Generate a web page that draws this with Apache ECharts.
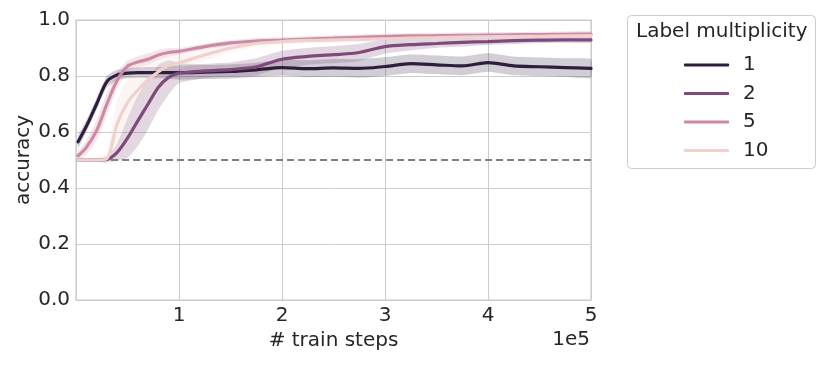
<!DOCTYPE html>
<html>
<head>
<meta charset="utf-8">
<script src="https://cdn.jsdelivr.net/npm/echarts@6/dist/echarts.min.js"></script>
<style>html,body{margin:0;padding:0;background:#fff;}#c{width:830px;height:365px;}</style>
</head>
<body>
<div id="c"></div>
<script>
// x in units of 1e5 train steps
const steps = [0.02,0.1,0.2,0.3,0.4,0.5,0.6,0.7,0.8,0.9,1.0,1.25,1.5,1.75,2.0,2.25,2.5,2.75,3.0,3.25,3.5,3.75,4.0,4.25,4.5,4.75,5.0];
const seriesNames = ['1','2','5','10'];
const acc1 = [0.565,0.62,0.70,0.78,0.804,0.81,0.812,0.812,0.812,0.812,0.812,0.814,0.816,0.822,0.83,0.826,0.829,0.827,0.834,0.844,0.84,0.836,0.848,0.836,0.833,0.83,0.827];
const ci1  = [0.02,0.02,0.02,0.02,0.018,0.018,0.018,0.02,0.02,0.022,0.025,0.025,0.025,0.025,0.028,0.03,0.032,0.033,0.033,0.033,0.033,0.033,0.033,0.033,0.033,0.033,0.033];
const acc2 = [0.50,0.50,0.50,0.502,0.527,0.578,0.64,0.70,0.76,0.795,0.81,0.818,0.823,0.833,0.86,0.87,0.876,0.884,0.905,0.912,0.916,0.92,0.923,0.926,0.928,0.929,0.929];
const ci2  = [0.003,0.003,0.006,0.01,0.03,0.07,0.09,0.09,0.08,0.06,0.035,0.025,0.025,0.03,0.03,0.03,0.03,0.03,0.025,0.02,0.015,0.015,0.012,0.012,0.01,0.01,0.01];
const acc5 = [0.515,0.545,0.605,0.70,0.785,0.835,0.85,0.86,0.875,0.884,0.888,0.905,0.918,0.925,0.928,0.932,0.935,0.938,0.941,0.943,0.944,0.945,0.946,0.947,0.948,0.949,0.95];
const ci5  = [0.015,0.025,0.035,0.04,0.03,0.02,0.02,0.02,0.018,0.015,0.012,0.01,0.01,0.01,0.01,0.01,0.01,0.01,0.01,0.01,0.01,0.01,0.01,0.01,0.01,0.01,0.01];
const acc10 = [0.50,0.50,0.50,0.505,0.63,0.705,0.75,0.787,0.815,0.838,0.847,0.875,0.90,0.916,0.923,0.927,0.929,0.931,0.933,0.935,0.937,0.939,0.94,0.941,0.942,0.943,0.944];
const ci10  = [0.003,0.003,0.006,0.02,0.08,0.08,0.07,0.05,0.04,0.03,0.025,0.02,0.015,0.012,0.01,0.01,0.01,0.01,0.01,0.01,0.01,0.01,0.01,0.01,0.01,0.01,0.01];
const chanceLevel = 0.5;
const xTicks = [1,2,3,4,5];

const colors = ['#2d1e3e','#7e4a7a','#cc8aa6','#efd2cd'];
const accs = [acc1, acc2, acc5, acc10];
const cis = [ci1, ci2, ci5, ci10];
const FONT = 'DejaVu Sans';
const TXT = '#262626';
const FS = 20;

const series = [];
accs.forEach((a, i) => {
  const bandData = steps.map((x, k) => [x, a[k] - cis[i][k], a[k] + cis[i][k]]);
  series.push({
    name: seriesNames[i] + '_band', type: 'custom', data: bandData,
    encode: {x: 0, y: [1, 2]}, silent: true, z: 1,
    renderItem: function (params, api) {
      if (params.dataIndex !== 0) return null;
      const up = bandData.map(d => api.coord([d[0], d[2]]));
      const lo = bandData.map(d => api.coord([d[0], d[1]])).reverse();
      return {
        type: 'polygon', shape: {points: up.concat(lo), smooth: 0.15},
        style: {fill: colors[i], opacity: 0.22, stroke: colors[i], lineWidth: 0.8, strokeOpacity: 0.15}
      };
    }
  });
});
series.push({
  name: 'chance', type: 'line', data: [[steps[0], chanceLevel], [steps[steps.length-1], chanceLevel]],
  symbol: 'none', lineStyle: {color: '#808080', width: 2.2, type: [7, 4]}, z: 2, silent: true
});
accs.forEach((a, i) => {
  series.push({
    name: seriesNames[i], type: 'line', data: steps.map((x, k) => [x, a[k]]),
    symbol: 'none', smooth: 0.3, z: 3,
    lineStyle: {color: colors[i], width: 3.2, cap: 'round'},
    itemStyle: {color: colors[i]}
  });
});

const chart = echarts.init(document.getElementById('c'), null, {renderer: 'canvas'});
chart.setOption({
  animation: false,
  backgroundColor: '#ffffff',
  textStyle: {fontFamily: FONT},
  grid: {left: 76, right: 239, top: 20, bottom: 65, show: true, borderColor: '#cccccc', borderWidth: 1.2, backgroundColor: 'transparent'},
  xAxis: {
    type: 'value', min: 0, max: 5, interval: 1,
    name: '# train steps', nameLocation: 'middle', nameGap: 31, nameMoveOverlap: false,
    nameTextStyle: {fontSize: FS, color: TXT, fontFamily: FONT},
    axisLine: {show: false}, axisTick: {show: false},
    axisLabel: {fontSize: FS, color: TXT, fontFamily: FONT, margin: 6,
      formatter: v => xTicks.indexOf(v) >= 0 ? String(v) : ''},
    splitLine: {show: true, lineStyle: {color: '#cccccc', width: 1}}
  },
  yAxis: {
    type: 'value', min: 0, max: 1, interval: 0.2,
    name: 'accuracy', nameLocation: 'middle', nameGap: 42, nameMoveOverlap: false,
    nameTextStyle: {fontSize: FS, color: TXT, fontFamily: FONT},
    axisLine: {show: false}, axisTick: {show: false},
    axisLabel: {fontSize: FS, color: TXT, fontFamily: FONT, margin: 6,
      formatter: v => v.toFixed(1)},
    splitLine: {show: true, lineStyle: {color: '#cccccc', width: 1}}
  },
  legend: {
    data: seriesNames, orient: 'vertical', left: 679, top: 50,
    itemWidth: 45, itemHeight: 3, itemGap: 8.5, icon: 'roundRect',
    textStyle: {fontSize: FS, color: TXT, fontFamily: FONT, padding: [0, 0, 0, 9]},
    selectedMode: false
  },
  graphic: [
    {type: 'rect', left: 627, top: 15, z: -1,
     shape: {width: 188, height: 153, r: 4},
     style: {fill: '#ffffff', stroke: '#cccccc', lineWidth: 1}},
    {type: 'text', left: 636, top: 22,
     style: {text: 'Label multiplicity', fontSize: FS, fill: TXT, fontFamily: FONT}},
    {type: 'text', right: 240, top: 330,
     style: {text: '1e5', fontSize: FS, fill: TXT, fontFamily: FONT}}
  ],
  series: series
});
</script>
</body>
</html>
